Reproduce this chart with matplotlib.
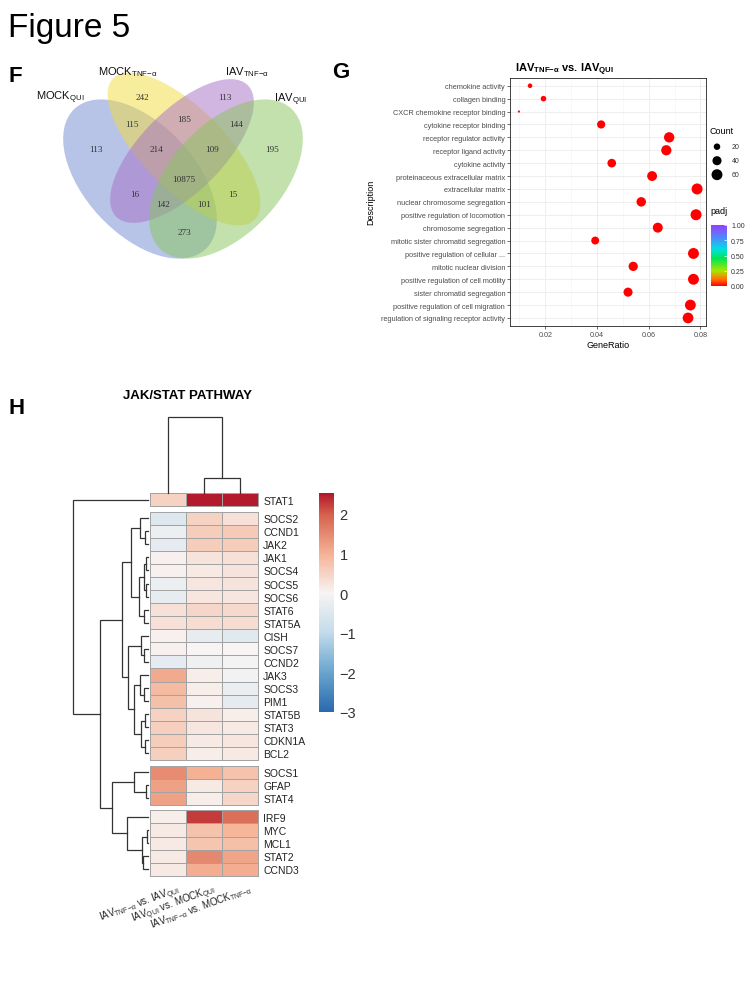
import numpy as np
import matplotlib
matplotlib.use("Agg")
import matplotlib.pyplot as plt
from matplotlib.patches import Ellipse
from matplotlib.colors import LinearSegmentedColormap, Normalize
from matplotlib.cm import ScalarMappable

plt.rcParams['font.family'] = ['Liberation Sans', 'DejaVu Sans']
plt.rcParams['mathtext.fontset'] = 'custom'
plt.rcParams['mathtext.rm'] = 'Liberation Sans'
plt.rcParams['mathtext.it'] = 'Liberation Sans:italic'
plt.rcParams['mathtext.bf'] = 'Liberation Sans:bold'

# ======================= DATA =======================
# --- Panel F: Venn diagram ---
venn_set_labels = ['MOCK$_{\\mathregular{QUI}}$', 'MOCK$_{\\mathregular{TNF{-}α}}$',
                   'IAV$_{\\mathregular{TNF{-}α}}$', 'IAV$_{\\mathregular{QUI}}$']
venn_regions = ['1000', '0100', '0010', '0001', '1100', '0110', '0011', '1110',
                '0111', '1111', '1010', '0101', '1011', '1101', '1001']
venn_counts = [113, 242, 113, 195, 115, 185, 144, 214, 109, 10875, 16, 15, 142, 101, 273]

# --- Panel G: GO dot plot ---
go_terms = ['chemokine activity', 'collagen binding', 'CXCR chemokine receptor binding',
            'cytokine receptor binding', 'receptor regulator activity', 'receptor ligand activity',
            'cytokine activity', 'proteinaceous extracellular matrix', 'extracellular matrix',
            'nuclear chromosome segregation', 'positive regulation of locomotion',
            'chromosome segregation', 'mitotic sister chromatid segregation',
            'positive regulation of cellular ...', 'mitotic nuclear division',
            'positive regulation of cell motility', 'sister chromatid segregation',
            'positive regulation of cell migration', 'regulation of signaling receptor activity']
go_gene_ratio = [0.0141, 0.0193, 0.0098, 0.0416, 0.0679, 0.0668, 0.0457, 0.0613, 0.0787,
                 0.0571, 0.0783, 0.0635, 0.0393, 0.0773, 0.0540, 0.0773, 0.0520, 0.0761, 0.0752]
go_count = [11, 15, 7, 32, 53, 52, 36, 48, 61, 44, 61, 49, 30, 60, 42, 60, 40, 59, 58]
go_padj = [0.004, 0.006, 0.010, 0.001, 0.0001, 0.0001, 0.001, 0.0001, 0.00001, 0.0001,
           0.00001, 0.0001, 0.001, 0.00001, 0.0005, 0.00001, 0.0008, 0.00001, 0.0001]
count_legend = [20, 40, 60]
padj_ticks = [0.0, 0.25, 0.5, 0.75, 1.0]

# --- Panel H: JAK/STAT heatmap ---
jak_genes = ['STAT1',
             'SOCS2', 'CCND1', 'JAK2', 'JAK1', 'SOCS4', 'SOCS5', 'SOCS6', 'STAT6', 'STAT5A',
             'CISH', 'SOCS7', 'CCND2', 'JAK3', 'SOCS3', 'PIM1', 'STAT5B', 'STAT3', 'CDKN1A', 'BCL2',
             'SOCS1', 'GFAP', 'STAT4',
             'IRF9', 'MYC', 'MCL1', 'STAT2', 'CCND3']
jak_columns = ['IAV$_{\\mathregular{TNF{-}α}}$ vs. IAV$_{\\mathregular{QUI}}$',
               'IAV$_{\\mathregular{QUI}}$ vs. MOCK$_{\\mathregular{QUI}}$',
               'IAV$_{\\mathregular{TNF{-}α}}$ vs. MOCK$_{\\mathregular{TNF{-}α}}$']
jak_col1 = [0.5,
            -0.5, -0.2, -0.35, 0.05, 0.05, -0.2, -0.3, 0.3, 0.3,
            0.05, 0.05, -0.35, 1.1, 0.85, 0.8, 0.5, 0.55, 0.6, 0.55,
            1.45, 1.2, 1.2,
            0.1, 0.15, 0.15, 0.15, 0.15]
jak_col2 = [2.5,
            0.5, 0.6, 0.6, 0.25, 0.15, 0.2, 0.2, 0.45, 0.35,
            -0.3, 0.0, -0.15, 0.1, 0.1, 0.05, 0.25, 0.2, 0.15, 0.1,
            1.0, 0.15, 0.1,
            2.25, 0.75, 0.7, 1.5, 1.05]
jak_col3 = [2.5,
            0.3, 0.65, 0.6, 0.3, 0.25, 0.25, 0.2, 0.4, 0.35,
            -0.45, 0.0, -0.05, -0.1, -0.25, -0.35, 0.1, 0.15, 0.2, 0.15,
            0.75, 0.5, 0.45,
            1.8, 0.95, 0.8, 1.15, 1.05]
row_block_sizes = [1, 19, 3, 5]
# row dendrogram: (left, right, merge height)
row_tree = ('STAT1',
            (((('SOCS2', ('CCND1', 'JAK2', 3.0), 8.0),
               ((('JAK1', 'SOCS4', 1.5), ('SOCS5', 'SOCS6', 2.0), 4.0), ('STAT6', 'STAT5A', 3.5), 9.0),
               17.0),
              (('CISH', ('SOCS7', 'CCND2', 3.5), 7.0),
               (('JAK3', ('SOCS3', 'PIM1', 4.0), 8.0),
                (('STAT5B', 'STAT3', 3.0), ('CDKN1A', 'BCL2', 2.5), 7.0), 14.0),
               20.0),
              26.3),
             (('SOCS1', ('GFAP', 'STAT4', 1.5), 14.3),
              ('IRF9', (('MYC', 'MCL1', 1.3), ('STAT2', 'CCND3', 4.7), 6.3), 21.3),
              36.3),
             48.0),
            74.7)
# column dendrogram
col_tree = (0, (1, 2, 3.0), 15.2)
hm_ticks = [-3, -2, -1, 0, 1, 2]
hm_range = (-3.0, 2.53)

# ======================= LAYOUT =======================
W, H = 752, 1003
fig = plt.figure(figsize=(W / 100, H / 100), dpi=100)


def add_ax(x0, y0, x1, y1):
    return fig.add_axes([x0 / W, 1 - y1 / H, (x1 - x0) / W, (y1 - y0) / H])


def ftext(x, y, s, **kw):
    return fig.text(x / W, 1 - y / H, s, **kw)


ftext(8, 28, 'Figure 5', fontsize=24, va='center', ha='left')
ftext(8, 77, 'F', fontsize=16, weight='bold', va='center', ha='left')
ftext(332, 72, 'G', fontsize=16, weight='bold', va='center', ha='left')
ftext(8, 408, 'H', fontsize=16, weight='bold', va='center', ha='left')

# ---------------- Venn ----------------
axv = add_ax(0, 40, 330, 290)
axv.set_xlim(0, 330)
axv.set_ylim(290, 40)
axv.axis('off')
ell_specs = [((140, 180), 192, 110, 47, '#7189D1'),
             ((184, 150), 200, 82, 45, '#F3DD3D'),
             ((182, 152), 186, 82, -45, '#A76FC7'),
             ((226, 180), 192, 110, -47, '#87C55B')]
for (c, w, h, ang, col) in ell_specs:
    axv.add_patch(Ellipse(c, w, h, angle=ang, facecolor=col, alpha=0.5, edgecolor='none'))
venn_label_xy = {'1000': (96, 150), '0100': (142, 98), '0010': (225, 98), '0001': (272, 150),
                 '1100': (132, 125), '0110': (184, 120), '0011': (236, 125), '1110': (156, 150),
                 '0111': (212, 150), '1111': (184, 180), '1010': (135, 195), '0101': (233, 195),
                 '1011': (163, 205), '1101': (204, 205), '1001': (184, 233)}
for reg, cnt in zip(venn_regions, venn_counts):
    x, y = venn_label_xy[reg]
    axv.text(x, y, str(cnt), ha='center', va='center', fontsize=6.6,
             family='Liberation Serif', color='#333333')
set_label_pos = [(36, 97.7, 'left'), (128, 71.7, 'center'), (247, 71.7, 'center'), (291, 100, 'center')]
for lab, (x, y, ha) in zip(venn_set_labels, set_label_pos):
    axv.text(x, y, lab, ha=ha, va='center', fontsize=8, color='#111111')

# ---------------- GO dot plot ----------------
padj_cmap = LinearSegmentedColormap.from_list(
    'padj', [(0.0, '#FF0000'), (0.12, '#FF7A00'), (0.25, '#A8E600'), (0.45, '#00E650'),
             (0.6, '#00E0E0'), (0.8, '#4F86FF'), (1.0, '#9B3DFF')])
cmin, cmax = min(go_count), max(go_count)


def dot_s(c):
    c = np.asarray(c, float)
    d_px = 2.2 + 8.8 * np.sqrt(np.clip((c - cmin) / (cmax - cmin), 0, 1))
    return (d_px * 0.72) ** 2


axd = add_ax(510, 79, 706, 326.7)
n = len(go_terms)
ypos = np.arange(n)
axd.scatter(go_gene_ratio, ypos, s=dot_s(go_count), c=go_padj, cmap=padj_cmap,
            vmin=0, vmax=1, linewidths=0, zorder=3)
lo, hi = min(go_gene_ratio), max(go_gene_ratio)
pad = 0.05 * (hi - lo)
axd.set_xlim(lo - pad, hi + pad)
axd.set_ylim(n - 1 + 0.6, -0.6)
axd.set_yticks(ypos)
axd.set_yticklabels(go_terms, fontsize=5.3, color='#4D4D4D')
axd.set_xticks([0.02, 0.04, 0.06, 0.08])
axd.set_xticklabels(['0.02', '0.04', '0.06', '0.08'], fontsize=5.2, color='#4D4D4D')
axd.set_xticks([0.01, 0.03, 0.05, 0.07], minor=True)
axd.grid(which='major', color='#EBEBEB', lw=0.6)
axd.grid(which='minor', axis='x', color='#F3F3F3', lw=0.4)
axd.set_axisbelow(True)
axd.tick_params(which='major', length=2, width=0.5, color='#333333', pad=1.5)
axd.tick_params(which='minor', length=0)
for sp in axd.spines.values():
    sp.set_color('#222222')
    sp.set_linewidth(0.6)
ftext(371, 202, 'Description', rotation=90, fontsize=6.5, va='center', ha='center')
ftext(608, 345, 'GeneRatio', fontsize=6.5, va='center', ha='center')
ftext(515, 70, 'IAV$_{\\mathbf{TNF{-}α}}$ vs. IAV$_{\\mathbf{QUI}}$', fontsize=8, weight='bold',
      va='center', ha='left')

# count legend
ftext(710, 131, 'Count', fontsize=6.5, va='center', ha='left')
axl = add_ax(705, 138, 752, 185)
axl.set_xlim(705, 752)
axl.set_ylim(185, 138)
axl.axis('off')
leg_y = [147.7, 161.7, 175.7]
axl.scatter([717] * len(count_legend), leg_y, s=dot_s(count_legend), c='black', linewidths=0)
for yy, c in zip(leg_y, count_legend):
    axl.text(732, yy, str(c), fontsize=5, va='center', ha='left', color='#333333')

# padj colorbar
ftext(710, 212, 'padj', fontsize=6.5, va='center', ha='left')
caxp = add_ax(711, 226, 727, 287)
cbp = fig.colorbar(ScalarMappable(Normalize(0, 1), padj_cmap), cax=caxp, ticks=padj_ticks)
cbp.outline.set_visible(False)
cbp.ax.set_yticklabels(['%.2f' % t for t in padj_ticks])
cbp.ax.tick_params(length=2.5, width=0.5, color='white', labelsize=5, labelcolor='#333333',
                   pad=3, direction='in')

# ---------------- Heatmap ----------------
hm_cmap = LinearSegmentedColormap.from_list(
    'hm', [((-3 - hm_range[0]) / (hm_range[1] - hm_range[0]), '#2B6AAE'),
           ((-2 - hm_range[0]) / (hm_range[1] - hm_range[0]), '#6AA5CF'),
           ((-1 - hm_range[0]) / (hm_range[1] - hm_range[0]), '#C3DBEA'),
           ((0 - hm_range[0]) / (hm_range[1] - hm_range[0]), '#F7F4F3'),
           ((1 - hm_range[0]) / (hm_range[1] - hm_range[0]), '#F5B295'),
           ((2 - hm_range[0]) / (hm_range[1] - hm_range[0]), '#D6604D'),
           (1.0, '#B2182B')])
hm_norm = Normalize(*hm_range)

gap = 0.43
n_rows = len(jak_genes)
block_of_row = np.repeat(np.arange(len(row_block_sizes)), row_block_sizes)
row_top = np.arange(n_rows) + block_of_row * gap
row_center = row_top + 0.5
total_h = n_rows + (len(row_block_sizes) - 1) * gap
vals = np.column_stack([jak_col1, jak_col2, jak_col3])

axh = add_ax(150, 494, 258.3, 876.7)
axh.set_xlim(0, 3)
axh.set_ylim(total_h, 0)
start = 0
for size in row_block_sizes:
    sl = slice(start, start + size)
    yedges = np.concatenate([row_top[sl], [row_top[start + size - 1] + 1]])
    qm = axh.pcolormesh(np.arange(4), yedges, vals[sl], cmap=hm_cmap, norm=hm_norm,
                        edgecolors='#A3A3A3', linewidth=0.7)
    qm.set_clip_on(False)
    start += size
axh.yaxis.tick_right()
axh.set_yticks(row_center)
axh.set_yticklabels(jak_genes, fontsize=7.5, color='#222222')
axh.tick_params(axis='y', length=0, pad=3.5)
axh.set_xticks([])
for sp in axh.spines.values():
    sp.set_visible(False)
for i, lab in enumerate(jak_columns):
    axh.text(i + 0.5 + 0.25, total_h + 0.45, lab, rotation=20, rotation_mode='anchor',
             ha='right', va='top', fontsize=7, color='#222222')

ftext(123, 396, 'JAK/STAT PATHWAY', fontsize=9.5, weight='bold', va='center', ha='left')

# dendrograms
leaf_y = {g: row_center[i] for i, g in enumerate(jak_genes)}
dcol = '#333333'


def draw_row_tree(ax, node):
    if isinstance(node, str):
        return leaf_y[node], 0.0
    l, r, h = node
    yl, hl = draw_row_tree(ax, l)
    yr, hr = draw_row_tree(ax, r)
    ax.plot([hl, h, h, hr], [yl, yl, yr, yr], color=dcol, lw=0.9, clip_on=False,
            solid_joinstyle='miter')
    return (yl + yr) / 2, h


axr = add_ax(73.3, 494, 148, 876.7)
axr.set_xlim(row_tree[2], 0)
axr.set_ylim(total_h, 0)
axr.axis('off')
draw_row_tree(axr, row_tree)


def draw_col_tree(ax, node):
    if not isinstance(node, tuple):
        return node + 0.5, 0.0
    l, r, h = node
    xl, hl = draw_col_tree(ax, l)
    xr, hr = draw_col_tree(ax, r)
    ax.plot([xl, xl, xr, xr], [hl, h, h, hr], color=dcol, lw=0.9, clip_on=False,
            solid_joinstyle='miter')
    return (xl + xr) / 2, h


axc = add_ax(150, 418, 258.3, 494)
axc.set_xlim(0, 3)
axc.set_ylim(0, col_tree[2])
axc.axis('off')
draw_col_tree(axc, col_tree)

# heatmap colorbar
caxh = add_ax(319, 494, 334, 712.7)
cbh = fig.colorbar(ScalarMappable(hm_norm, hm_cmap), cax=caxh, ticks=hm_ticks)
cbh.outline.set_visible(False)
cbh.ax.set_yticklabels([('\u2212%d' % -t) if t < 0 else '%d' % t for t in hm_ticks])
cbh.ax.tick_params(length=0, labelsize=10.5, labelcolor='#333333', pad=4)

fig.savefig('out.png', dpi=100)
